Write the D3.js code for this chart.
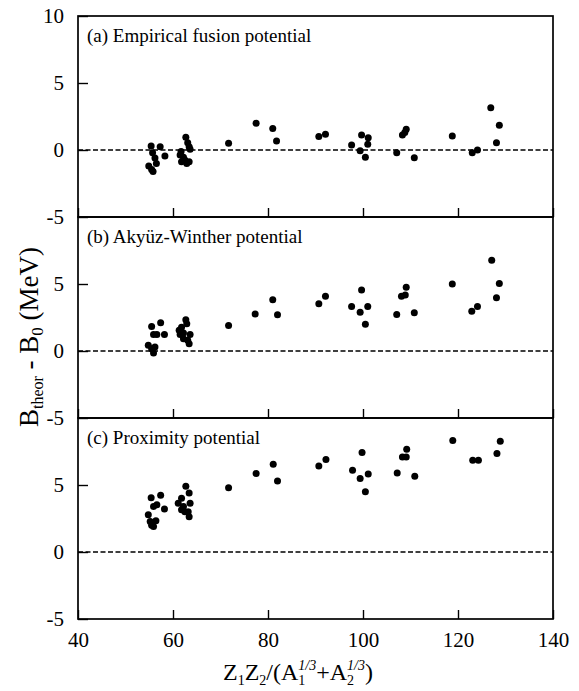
<!DOCTYPE html>
<html><head><meta charset="utf-8">
<script src="https://cdn.jsdelivr.net/npm/d3@7"></script>
<style>body{margin:0;background:#fff}svg{display:block}</style>
</head><body><svg id="c" width="579" height="691"></svg>
<script>
// ---- data ----
const panelLabels = ["(a) Empirical fusion potential","(b) Akyüz-Winther potential","(c) Proximity potential"];
const xTicks = [40,60,80,100,120,140];
const yTicksTop = [-5,0,5,10];
const yTicksLower = [-5,0,5];

const xA = [55.4,57.3,55.7,56.2,58.3,56.5,54.9,55.8,55.5,
  62.7,63.1,63.4,63.6,61.7,61.5,62.2,61.8,62.9,63.4,62.5,
  71.7,77.5,81.0,81.8,90.7,92.1,97.6,99.7,99.4,101.1,101.0,100.5,
  107.1,108.3,109.1,108.8,110.8,118.8,123.0,124.1,126.9,128.7,128.1];
const yA = [0.3,0.25,-0.2,-0.6,-0.45,-1.0,-1.2,-1.6,-1.45,
  0.95,0.55,0.25,0.05,-0.12,-0.37,-0.55,-0.87,-1.0,-0.87,-0.75,
  0.5,2.0,1.6,0.67,1.0,1.17,0.37,1.12,-0.05,0.92,0.42,-0.55,
  -0.2,1.12,1.54,1.3,-0.57,1.04,-0.2,0.0,3.16,1.84,0.55];

const xB = [55.5,57.4,55.9,56.6,58.2,54.8,56.2,55.9,55.5,
  62.7,62.9,61.8,61.3,62.2,63.6,62.2,63.1,63.4,61.5,
  71.7,77.3,81.0,82.0,90.7,92.1,97.6,99.7,99.4,101.0,100.5,
  107.1,108.1,108.9,109.1,110.8,118.8,122.9,124.1,127.1,128.7,128.1];
const yB = [1.83,2.1,1.24,1.24,1.24,0.42,0.3,-0.15,0.17,
  2.33,2.03,1.78,1.54,1.34,1.24,0.92,0.8,0.55,1.24,
  1.9,2.77,3.83,2.7,3.52,4.08,3.32,4.55,2.9,3.32,2.0,
  2.72,4.08,4.18,4.75,2.85,5.0,2.97,3.32,6.78,5.04,3.98];

const xC = [55.4,57.4,55.9,56.6,58.2,54.8,56.4,55.2,55.9,55.5,
  62.7,63.4,61.8,61.1,63.6,62.2,62.5,63.2,63.4,61.8,
  71.7,77.5,81.1,82.0,90.7,92.2,97.8,99.8,99.4,101.1,100.5,
  107.2,108.3,109.1,109.2,110.9,118.9,123.1,124.3,128.9,128.2];
const yC = [4.04,4.23,3.4,3.53,3.2,2.78,2.33,2.28,1.9,2.0,
  4.91,4.4,4.02,3.64,3.64,3.4,3.0,3.0,2.63,3.16,
  4.8,5.85,6.54,5.29,6.41,6.9,6.11,7.42,5.49,5.82,4.49,
  5.9,7.09,7.09,7.67,5.66,8.33,6.84,6.84,8.27,7.35];

const panelsX = [xA,xB,xC];
const panelsY = [yA,yB,yC];

// ---- layout ----
const svg = d3.select("#c");
const FONT = "'Liberation Serif','Times New Roman',serif";
const left = 78, right = 553, top0 = 16, ph = 201;
const x = d3.scaleLinear().domain([40,140]).range([left,right]);
const fmt = d => String(d);

panelsX.forEach((xs,i)=>{
  const top = top0 + i*ph;
  const y = d3.scaleLinear().domain([-5,10]).range([top+ph, top]);
  const g = svg.append("g");

  // zero dashed line
  g.append("line").attr("x1",left).attr("x2",right)
    .attr("y1",y(0)).attr("y2",y(0))
    .attr("stroke","#000").attr("stroke-width",1.5).attr("stroke-dasharray","5,2.5");

  // x axis (inner ticks)
  const xa = d3.axisBottom(x).tickValues(xTicks).tickSize(-9).tickSizeOuter(0).tickPadding(13)
    .tickFormat(i===2 ? fmt : ()=> "");
  const gx = g.append("g").attr("transform",`translate(0,${top+ph})`).call(xa);
  gx.select(".domain").remove();
  gx.selectAll("line").attr("stroke-width",1.4);
  gx.selectAll("text").attr("font-family",FONT).attr("font-size",21).attr("fill","#000");

  // y axis
  const ya = d3.axisLeft(y).tickValues(i===0 ? yTicksTop : yTicksLower).tickSize(-10).tickSizeOuter(0).tickPadding(14)
    .tickFormat(fmt);
  const gy = g.append("g").attr("transform",`translate(${left},0)`).call(ya);
  gy.select(".domain").remove();
  gy.selectAll("line").attr("stroke-width",1.4);
  gy.selectAll("text").attr("font-family",FONT).attr("font-size",21).attr("fill","#000");

  // frame
  g.append("rect").attr("x",left).attr("y",top).attr("width",right-left).attr("height",ph)
    .attr("fill","none").attr("stroke","#000").attr("stroke-width",1.7);

  // panel label
  g.append("text").attr("x",left+9).attr("y",top+26)
    .attr("font-family",FONT).attr("font-size",19).text(panelLabels[i]);

  // points
  g.selectAll("circle.p").data(xs.map((v,k)=>[v,panelsY[i][k]])).join("circle")
    .attr("class","p").attr("cx",d=>x(d[0])).attr("cy",d=>y(d[1])).attr("r",3.5).attr("fill","#000");
});

// y title
const yt = svg.append("text").attr("transform","translate(38,337) rotate(-90)")
  .attr("text-anchor","middle").attr("font-family",FONT).attr("font-size",27);
yt.append("tspan").text("B");
yt.append("tspan").attr("font-size",16).attr("dy",5).text("theor");
yt.append("tspan").attr("dy",-5).text(" - B");
yt.append("tspan").attr("font-size",17).attr("dy",5).text("0");
yt.append("tspan").attr("dy",-5).text(" (MeV)");

// x title
const xt = svg.append("text").attr("x",298).attr("y",680)
  .attr("text-anchor","middle").attr("font-family",FONT).attr("font-size",24);
xt.append("tspan").text("Z");
xt.append("tspan").attr("font-size",14).attr("dy",5).text("1");
xt.append("tspan").attr("dy",-5).text("Z");
xt.append("tspan").attr("font-size",14).attr("dy",5).text("2");
xt.append("tspan").attr("dy",-5).text("/(A");
xt.append("tspan").attr("font-size",14).attr("dy",5).text("1");
xt.append("tspan").attr("font-size",14).attr("font-style","italic").attr("dx",-7).attr("dy",-15).text("1/3");
xt.append("tspan").attr("dy",10).text("+A");
xt.append("tspan").attr("font-size",14).attr("dy",5).text("2");
xt.append("tspan").attr("font-size",14).attr("font-style","italic").attr("dx",-7).attr("dy",-15).text("1/3");
xt.append("tspan").attr("dy",10).text(")");
</script></body></html>
